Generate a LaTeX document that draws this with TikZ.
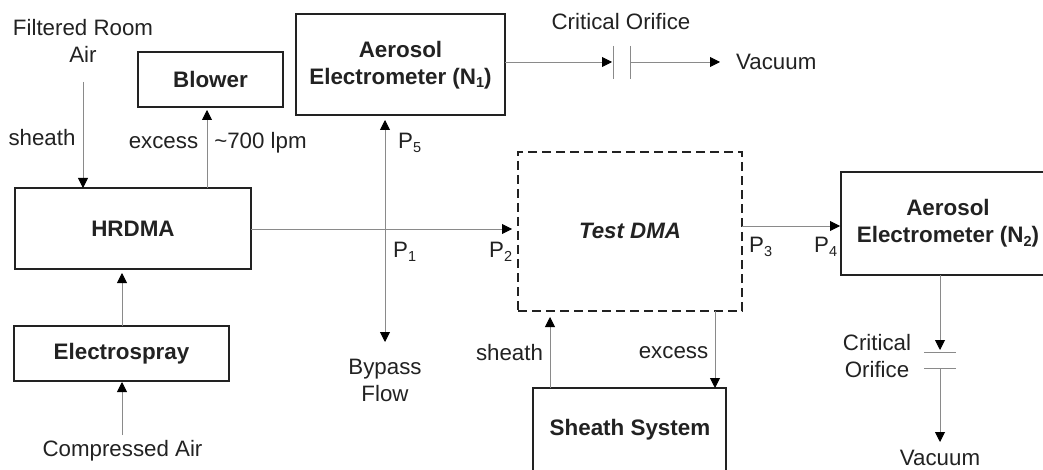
\documentclass[tikz,border=0pt]{standalone}
\usepackage{fontspec}
\setmainfont{Liberation Sans}
\usetikzlibrary{arrows.meta}
\definecolor{ink}{HTML}{222222}
\definecolor{wire}{HTML}{8A8A8A}
\newcommand{\sbs}[1]{\raisebox{-3.5pt}{\fontsize{14.5}{15}\selectfont #1}}
\tikzset{
 x=1pt,y=-1pt,
 box/.style={draw=ink,line width=2pt,fill=white,inner sep=0pt,font=\fontsize{22.4}{27}\selectfont\bfseries,align=center,text=ink},
 lab/.style={inner sep=0pt,font=\fontsize{22.3}{27}\selectfont,text=ink,align=center},
 flow/.style={draw=wire,line width=.9pt,-{Triangle[length=10pt,width=10pt,color=black]}},
 flowb/.style={draw=wire,line width=.9pt,{Triangle[length=10pt,width=10pt,color=black]}-{Triangle[length=10pt,width=10pt,color=black]}},
 plate/.style={draw=wire,line width=.8pt},
}
\begin{document}
\begin{tikzpicture}
\useasboundingbox (0,0) rectangle (1043,470);
\fill[white] (0,0) rectangle (1043,470);
% boxes
\node[box,minimum width=145pt,minimum height=55pt] (blower) at (210.5,79.5) {Blower};
\node[box,minimum width=209pt,minimum height=101pt] (n1) at (400.5,65) {Aerosol\\Electrometer (N\sbs{1})};
\node[box,minimum width=236pt,minimum height=81pt] (hrdma) at (133,228.5) {HRDMA};
\node[box,minimum width=215pt,minimum height=55pt] (es) at (121.5,353.5) {Electrospray};
\node[box,dash pattern=on 9pt off 5pt,minimum width=224pt,minimum height=159pt] (test) at (630,231.5) {};
\node[lab,font=\fontsize{22.3}{27}\selectfont\bfseries\itshape] (testlab) at (630,231) {Test DMA};
\node[box,minimum width=214pt,minimum height=103pt] (n2) at (948,223.5) {Aerosol\\Electrometer (N\sbs{2})};
% sheath box, cut by the picture edge
\coordinate (sa) at (533,388);
\coordinate (sb) at (726,388);
\draw[draw=ink,line width=2pt] (533,475) -- (sa) -- (sb) -- (726,475);
\node[box,draw=none,fill=none] (sheathbox) at (630,430) {Sheath System};
% labels
\node[lab] (room) at (83,41) {Filtered Room\\Air};
\node[lab] (sh1) at (42,138) {sheath};
\node[lab] (ex1) at (163.5,143) {excess};
\node[lab] (lpm) at (260.5,143) {\textasciitilde700 lpm};
\node[lab] (co1) at (621,22) {Critical Orifice};
\node[lab,anchor=west] (vac1) at (736,62) {Vacuum};
\node[lab,anchor=west] (p5) at (398,143) {P\sbs{5}};
\node[lab,anchor=west] (p1) at (393,252) {P\sbs{1}};
\node[lab,anchor=west] (p2) at (489,252) {P\sbs{2}};
\node[lab,anchor=west] (p3) at (749,247) {P\sbs{3}};
\node[lab,anchor=west] (p4) at (814,247) {P\sbs{4}};
\node[lab] (byp) at (385,380) {Bypass\\Flow};
\node[lab] (sh2) at (509.5,353) {sheath};
\node[lab] (ex2) at (673.5,353) {excess};
\node[lab] (co2) at (877,356) {Critical\\Orifice};
\node[lab] (air) at (122.5,451) {Compressed Air};
\node[lab,anchor=base] (vac2) at (940,465) {Vacuum};
% named ends
\coordinate (a1) at (83,82);
\coordinate (a2) at (83,188);
\coordinate (b1) at (207,188);
\coordinate (b2) at (207,110);
\coordinate (c1) at (122,326);
\coordinate (c2) at (122,273);
\coordinate (d1) at (122,435);
\coordinate (d2) at (122,382);
\coordinate (e1) at (251,229);
\coordinate (e2) at (512,229);
\coordinate (f1) at (385,120);
\coordinate (f2) at (385,342);
\coordinate (g1) at (505,62);
\coordinate (g2) at (612,62);
\coordinate (g3) at (630,62);
\coordinate (g4) at (720,62);
\coordinate (h1) at (742,226);
\coordinate (h2) at (840,226);
\coordinate (i1) at (940,275);
\coordinate (i2) at (940,350);
\coordinate (i3) at (940,368);
\coordinate (i4) at (940,442);
\coordinate (j1) at (550,388);
\coordinate (j2) at (550,317);
\coordinate (k1) at (715,311);
\coordinate (k2) at (715,388);
% connectors
\draw[flow] (a1) -- (a2);
\draw[flow] (b1) -- (b2);
\draw[flow] (c1) -- (c2);
\draw[flow] (d1) -- (d2);
\draw[flow] (e1) -- (e2);
\draw[flowb] (f1) -- (f2);
\draw[flow] (g1) -- (g2);
\draw[flow] (g3) -- (g4);
\draw[flow] (h1) -- (h2);
\draw[flow] (i1) -- (i2);
\draw[flow] (i3) -- (i4);
\draw[flow] (j1) -- (j2);
\draw[flow] (k1) -- (k2);
% orifice plates
\draw[plate] (613,46) -- (613,79);
\draw[plate] (630,46) -- (630,79);
\draw[plate] (924,352) -- (956,352);
\draw[plate] (924,368) -- (956,368);
\end{tikzpicture}
\end{document}
